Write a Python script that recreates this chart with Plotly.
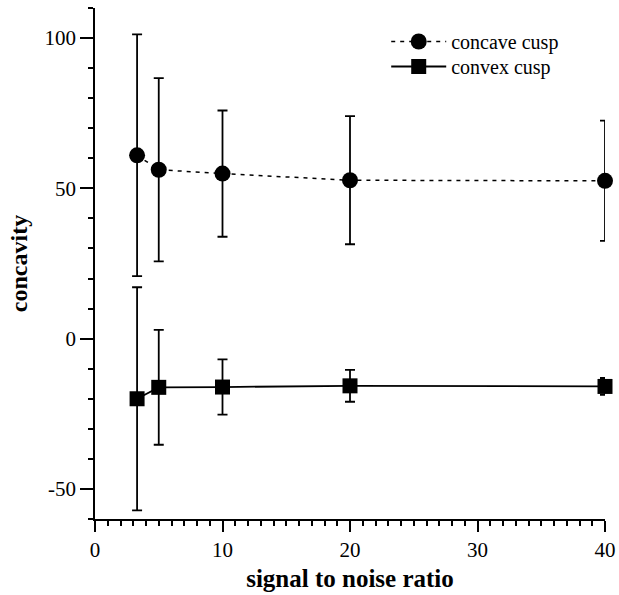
import plotly.graph_objects as go

# signal to noise ratio levels
snr = [3.3, 5, 10, 20, 40]

# concave cusp: mean concavity and error
concave_mean = [61, 56.2, 54.9, 52.7, 52.5]
concave_err = [40.2, 30.5, 21, 21.3, 20]

# convex cusp: mean concavity and error
convex_mean = [-20, -16.2, -16.1, -15.7, -15.9]
convex_err = [37.1, 19.1, 9.2, 5.3, 2.8]

x_ticks = [0, 10, 20, 30, 40]
y_ticks = [-50, 0, 50, 100]

FONT = "Liberation Serif"

fig = go.Figure()

fig.add_trace(go.Scatter(
    x=snr, y=concave_mean, name="concave cusp", mode="lines+markers",
    line=dict(color="black", width=1.5, dash="4px,5px"),
    marker=dict(symbol="circle", size=16, color="black"),
    error_y=dict(type="data", array=concave_err, visible=True,
                 color="black", thickness=1.8, width=5),
    cliponaxis=False, legend="legend",
))

fig.add_trace(go.Scatter(
    x=snr, y=convex_mean, name="convex cusp", mode="lines+markers",
    line=dict(color="black", width=1.8),
    marker=dict(symbol="square", size=15, color="black"),
    error_y=dict(type="data", array=convex_err, visible=True,
                 color="black", thickness=1.8, width=5),
    cliponaxis=False, legend="legend2",
))

legend_style = dict(xanchor="left", yanchor="top", bgcolor="rgba(0,0,0,0)",
                    font=dict(size=20, family=FONT), itemwidth=55)

fig.update_layout(
    width=619, height=595,
    margin=dict(l=95, r=14, t=8, b=76, autoexpand=False),
    paper_bgcolor="white", plot_bgcolor="white",
    font=dict(family=FONT, color="black", size=20),
    showlegend=True,
    legend=dict(x=0.571, y=0.9726, **legend_style),
    legend2=dict(x=0.571, y=0.9237, **legend_style),
    xaxis=dict(
        range=[0, 40], tickvals=x_ticks, ticktext=[str(v) for v in x_ticks],
        automargin=False,
        showgrid=False, zeroline=False, showline=True, linecolor="black", linewidth=1.8,
        ticks="outside", ticklen=11, tickwidth=1.8, tickcolor="black",
        minor=dict(dtick=1, ticks="outside", ticklen=5, tickwidth=1.5, tickcolor="black", showgrid=False),
        tickfont=dict(size=21, family=FONT),
        title=dict(text="<b>signal to noise ratio</b>", font=dict(size=25, family=FONT), standoff=8),
    ),
    yaxis=dict(
        range=[-60, 110], tickvals=y_ticks, ticktext=[str(v) for v in y_ticks],
        automargin=False,
        showgrid=False, zeroline=False, showline=True, linecolor="black", linewidth=1.8,
        ticks="outside", ticklen=13, tickwidth=1.8, tickcolor="black",
        minor=dict(dtick=10, tick0=0, ticks="outside", ticklen=5, tickwidth=1.5, tickcolor="black", showgrid=False),
        tickfont=dict(size=21, family=FONT),
        title=dict(text="<b>concavity</b>", font=dict(size=24, family=FONT), standoff=10),
    ),
)

fig.write_html("out.html")
